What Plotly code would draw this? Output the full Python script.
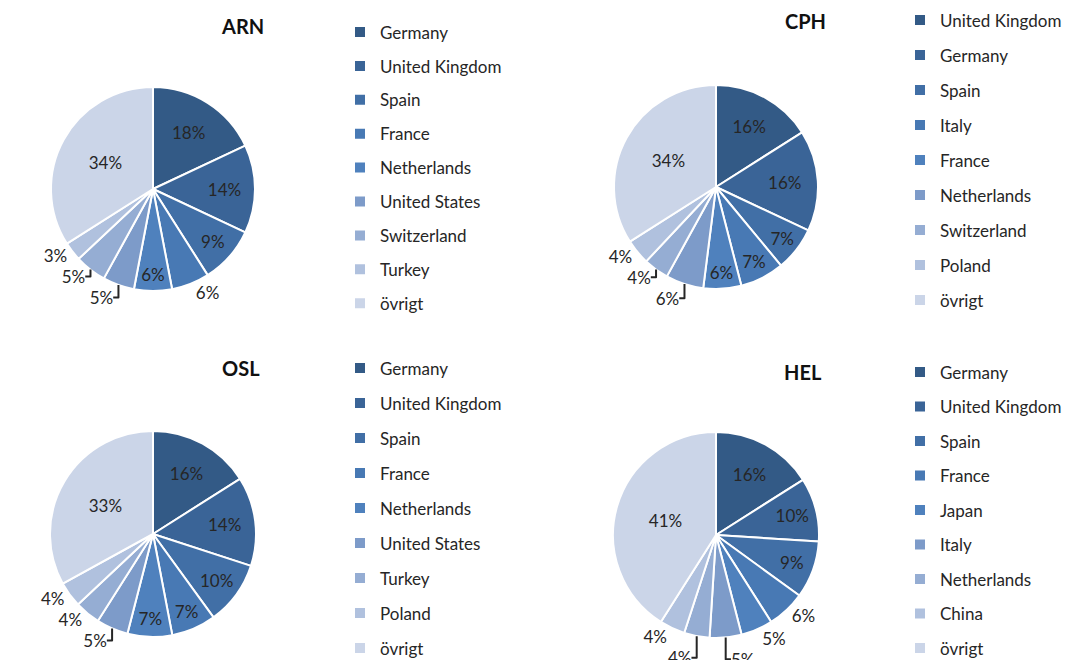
import plotly.graph_objects as go

W, H = 1067, 660

# ---------------- data ----------------
arn_labels = ["Germany", "United Kingdom", "Spain", "France", "Netherlands",
              "United States", "Switzerland", "Turkey", "övrigt"]
arn_values = [18, 14, 9, 6, 6, 5, 5, 3, 34]

cph_labels = ["United Kingdom", "Germany", "Spain", "Italy", "France",
              "Netherlands", "Switzerland", "Poland", "övrigt"]
cph_values = [16, 16, 7, 7, 6, 6, 4, 4, 34]

osl_labels = ["Germany", "United Kingdom", "Spain", "France", "Netherlands",
              "United States", "Turkey", "Poland", "övrigt"]
osl_values = [16, 14, 10, 7, 7, 5, 4, 4, 33]

hel_labels = ["Germany", "United Kingdom", "Spain", "France", "Japan",
              "Italy", "Netherlands", "China", "övrigt"]
hel_values = [16, 10, 9, 6, 5, 5, 4, 4, 41]

titles = ["ARN", "CPH", "OSL", "HEL"]

# ---------------- styles ----------------
COLORS = ["#335A86", "#3A6497", "#416FA6", "#4879B4", "#4F81BD",
          "#7D9BC9", "#95ADD3", "#B0C1DE", "#CBD5E8"]
I, O = "inside", "outside"
FONT = "Lato, 'Open Sans', sans-serif"
TXT = "#262626"

charts = [
    dict(labels=arn_labels, values=arn_values, title=titles[0],
         tpos=[I, I, I, O, I, O, O, O, I],
         cx=153, cy=189, r=102, tx=242, ty=26, lx=380, ly=32, sp=33.9),
    dict(labels=cph_labels, values=cph_values, title=titles[1],
         tpos=[I, I, I, I, I, O, O, O, I],
         cx=716, cy=187, r=102, tx=805, ty=21, lx=940, ly=20, sp=35.0),
    dict(labels=osl_labels, values=osl_values, title=titles[2],
         tpos=[I, I, I, I, I, O, O, O, I],
         cx=153, cy=534, r=103, tx=241, ty=368, lx=380, ly=368, sp=35.0),
    dict(labels=hel_labels, values=hel_values, title=titles[3],
         tpos=[I, I, I, O, O, O, O, O, I],
         cx=716, cy=535, r=103, tx=803, ty=372, lx=940, ly=372, sp=34.5),
]

LFS = 17
item_h = LFS * 1.3 + 3

fig = go.Figure()
layout_legends = {}
annotations = []

for k, c in enumerate(charts):
    legname = "legend" if k == 0 else f"legend{k+1}"
    fig.add_trace(go.Pie(
        labels=c["labels"], values=c["values"], sort=False,
        direction="clockwise", rotation=0,
        marker=dict(colors=COLORS, line=dict(color="white", width=2)),
        texttemplate="%{value}%", textposition=c["tpos"],
        insidetextorientation="horizontal",
        textfont=dict(family=FONT, size=17, color=TXT),
        showlegend=False,
        domain=dict(x=[(c["cx"] - c["r"]) / W, (c["cx"] + c["r"]) / W],
                    y=[1 - (c["cy"] + c["r"]) / H, 1 - (c["cy"] - c["r"]) / H]),
    ))
    for i, (lab, col) in enumerate(zip(c["labels"], COLORS)):
        fig.add_trace(go.Scatter(
            x=[None], y=[None], mode="markers", name=lab,
            marker=dict(symbol="square", size=10, color=col, line=dict(width=0)),
            legend=legname, legendgroup=f"{c['title']}_{i}", showlegend=True,
            hoverinfo="skip",
        ))
    top = c["ly"] - (5 + item_h / 2)
    layout_legends[legname] = dict(
        x=(c["lx"] - 40) / W, xanchor="left",
        y=1 - top / H, yanchor="top",
        tracegroupgap=c["sp"] - item_h,
        font=dict(family=FONT, size=LFS, color=TXT),
        bgcolor="rgba(0,0,0,0)", borderwidth=0,
        traceorder="grouped",
    )
    annotations.append(dict(
        x=c["tx"] / W, y=1 - c["ty"] / H, xref="paper", yref="paper",
        text=f"<b>{c['title']}</b>", showarrow=False,
        font=dict(family=FONT, size=20, color="#111111"),
        xanchor="center", yanchor="middle",
    ))

fig.update_layout(
    width=W, height=H,
    margin=dict(l=0, r=0, t=0, b=0, autoexpand=False),
    paper_bgcolor="white", plot_bgcolor="white",
    xaxis=dict(visible=False), yaxis=dict(visible=False),
    uniformtext=dict(minsize=17, mode="show"),
    annotations=annotations,
    **layout_legends,
)

fig.write_html(
    "out.html",
    config={"displayModeBar": False},
    post_script="document.body.style.margin='0';document.body.style.overflow='hidden';",
)
